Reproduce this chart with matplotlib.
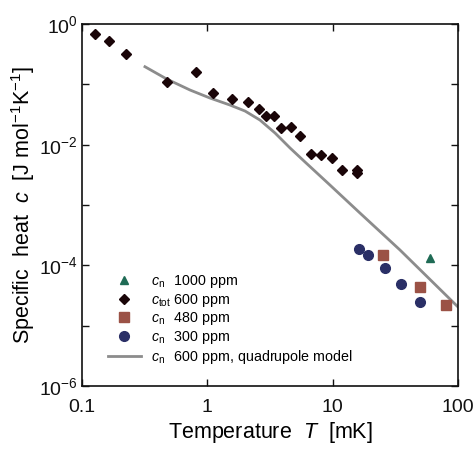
import math
import matplotlib
matplotlib.use("Agg")
import matplotlib.pyplot as plt
from matplotlib.ticker import FixedLocator, FuncFormatter, NullLocator

plt.rcParams["font.family"] = ["Liberation Sans", "DejaVu Sans"]
plt.rcParams["mathtext.fontset"] = "custom"
plt.rcParams["mathtext.rm"] = "Liberation Sans"
plt.rcParams["mathtext.it"] = "Liberation Sans:italic"
plt.rcParams["mathtext.bf"] = "Liberation Sans:bold"

# Specific heat data (T in mK, c in J mol^-1 K^-1)
T_tot600 = [0.127, 0.164, 0.224, 0.474, 0.807, 1.10, 1.58, 2.12, 2.58, 2.94,
            3.42, 3.89, 4.62, 5.46, 6.68, 8.12, 9.82, 11.9, 15.7, 15.7]
c_tot600 = [0.69, 0.53, 0.318, 0.109, 0.162, 0.0710, 0.0578, 0.0504, 0.0395, 0.0295,
            0.0295, 0.0187, 0.0196, 0.0139, 0.00708, 0.00682, 0.00594, 0.00385, 0.00380, 0.00343]

T_n1000 = [60.1]
c_n1000 = [1.31e-4]

T_n480 = [25.2, 50.0, 80.7]
c_n480 = [1.50e-4, 4.42e-5, 2.17e-5]

T_n300 = [16.1, 19.1, 26.2, 35.3, 50.0]
c_n300 = [1.87e-4, 1.50e-4, 9.03e-5, 4.96e-5, 2.49e-5]

# Quadrupole model curve for c_n at 600 ppm
T_model = [0.318, 0.474, 0.728, 1.05, 1.516, 2.00, 2.63, 3.47, 4.57, 6.02,
           9.52, 16.5, 34.4, 100.0]
c_model = [0.196, 0.1226, 0.0805, 0.0593, 0.0454, 0.0361, 0.0256, 0.0156, 0.00881,
           0.00516, 0.00214, 7.37e-4, 1.80e-4, 2.04e-5]

fig = plt.figure(figsize=(4.77, 4.49), dpi=100)
ax = fig.add_axes([0.1719, 0.1403, 0.7883, 0.8062])

ax.plot(T_n1000, c_n1000, linestyle="none", marker="^", ms=6, color="#1f6b55",
        label=r"$c_\mathrm{n}\hspace{0.5}$ 1000 ppm")
ax.plot(T_tot600, c_tot600, linestyle="none", marker="D", ms=5, color="#1a0508",
        label=r"$c_\mathrm{tot}$ 600 ppm")
ax.plot(T_n480, c_n480, linestyle="none", marker="s", ms=6.5, color="#9b5246",
        label=r"$c_\mathrm{n}\hspace{0.5}$ 480 ppm")
ax.plot(T_n300, c_n300, linestyle="none", marker="o", ms=7, color="#2a2f66",
        label=r"$c_\mathrm{n}\hspace{0.5}$ 300 ppm")
ax.plot(T_model, c_model, color="#8c8c8c", lw=2.0,
        label=r"$c_\mathrm{n}\hspace{0.5}$ 600 ppm, quadrupole model", zorder=1)

ax.set_xscale("log")
ax.set_yscale("log")
ax.set_xlim(0.1, 100)
ax.set_ylim(1e-6, 1)

ax.xaxis.set_major_locator(FixedLocator([0.1, 1, 10, 100]))
ax.xaxis.set_minor_locator(NullLocator())
ax.xaxis.set_major_formatter(FuncFormatter(lambda v, p: "%g" % v))
ax.yaxis.set_major_locator(FixedLocator([1e-6, 1e-5, 1e-4, 1e-3, 1e-2, 1e-1, 1]))
ax.yaxis.set_minor_locator(NullLocator())


def ylab(v, p):
    e = int(round(math.log10(v)))
    return r"$10^{%d}$" % e if e % 2 == 0 else ""


ax.yaxis.set_major_formatter(FuncFormatter(ylab))
ax.tick_params(which="both", direction="in", top=True, right=True, length=5,
               width=1, labelsize=14, colors="#111111")
ax.tick_params(axis="x", pad=9)
ax.tick_params(axis="y", pad=3)
for s in ax.spines.values():
    s.set_linewidth(1.2)
    s.set_color("#111111")

ax.set_xlabel(r"Temperature  $T$  [mK]", fontsize=15.5, labelpad=3)
ax.set_ylabel(r"Specific  heat  $c$  [J mol$^{-1}$K$^{-1}$]", fontsize=15.5, labelpad=1)

leg = ax.legend(loc="upper left", bbox_to_anchor=(0.07, 0.313), frameon=False,
                fontsize=10.3, handlelength=2.25, handletextpad=0.75,
                labelspacing=0.13, borderpad=0, borderaxespad=0)

fig.savefig("out.png", dpi=100)
